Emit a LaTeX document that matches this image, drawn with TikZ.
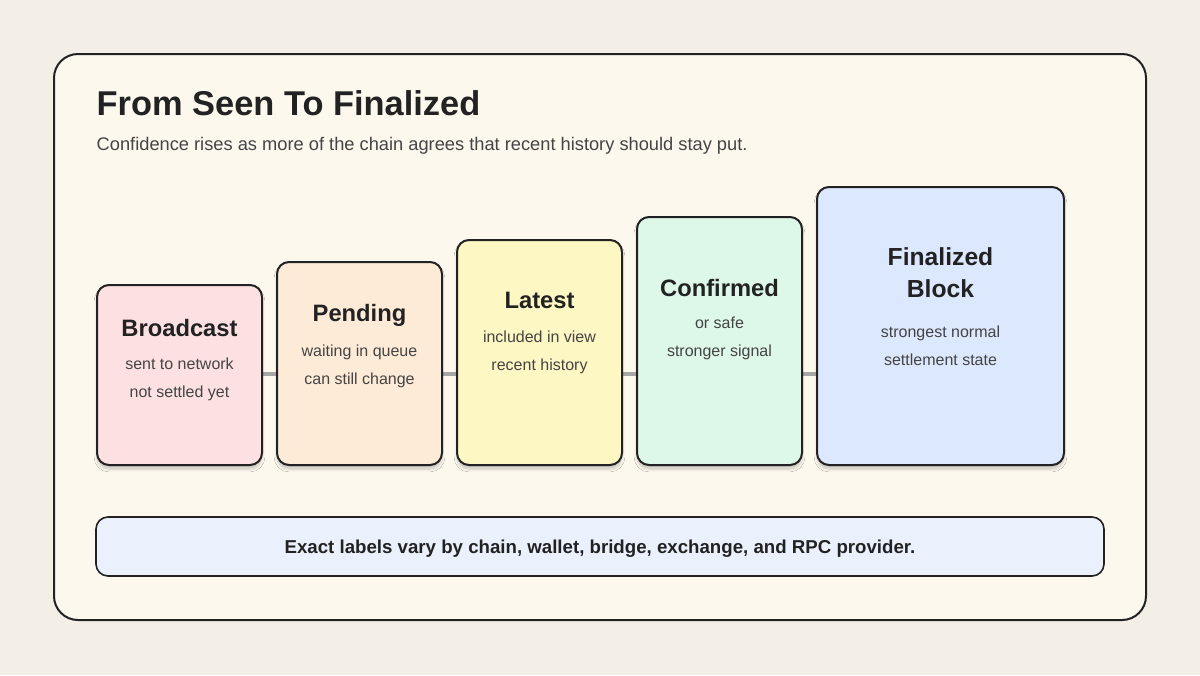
\documentclass[tikz,border=0pt]{standalone}
\usepackage{fontspec}
\setmainfont{Liberation Sans}
\usetikzlibrary{shadows.blur}
\definecolor{pagebg}{HTML}{F3EFE6}
\definecolor{framebg}{HTML}{FCF8EE}
\definecolor{ink}{HTML}{222222}
\definecolor{sub}{HTML}{444444}
\definecolor{cpink}{HTML}{FDE0E2}
\definecolor{cpeach}{HTML}{FDEBD7}
\definecolor{cyel}{HTML}{FDF7C3}
\definecolor{cgreen}{HTML}{DDF7E8}
\definecolor{cblue}{HTML}{DCE8FD}
\definecolor{cnote}{HTML}{EAF0FC}
\begin{document}
\begin{tikzpicture}[x=0.75pt,y=-0.75pt,
  stage/.style={draw=ink,line width=1.5pt,rounded corners=9pt,blur shadow={shadow blur steps=6,shadow xshift=0pt,shadow yshift=-3pt,shadow opacity=20}},
  ttl/.style={font=\bfseries\fontsize{17.8}{19}\selectfont,text=ink,align=center},
  dsc/.style={font=\fontsize{12}{21}\selectfont,text=sub,align=center},
  link/.style={draw=gray!70,line width=3.5pt}]
\fill[pagebg] (0,0) rectangle (1200,675);
\useasboundingbox (0,0) rectangle (1200,675);
\draw[ink,fill=framebg,line width=1.5pt,rounded corners=18pt] (54,54) rectangle (1146,620);
\node[anchor=west,font=\bfseries\fontsize{25.8}{29}\selectfont,text=ink] (title) at (92,103) {From Seen To Finalized};
\node[anchor=west,font=\fontsize{13.7}{16}\selectfont,text=sub] (subt) at (92,146) {Confidence rises as more of the chain agrees that recent history should stay put.};
% connectors
\coordinate (c1a) at (262,374); \coordinate (c1b) at (277,374);
\coordinate (c2a) at (442,374); \coordinate (c2b) at (457,374);
\coordinate (c3a) at (622,374); \coordinate (c3b) at (637,374);
\coordinate (c4a) at (802,374); \coordinate (c4b) at (817,374);
\draw[link] (c1a)--(c1b); \draw[link] (c2a)--(c2b); \draw[link] (c3a)--(c3b); \draw[link] (c4a)--(c4b);
% boxes
\path[stage,fill=cpink] (97,285) rectangle (262,465);
\path[stage,fill=cpeach] (277,262) rectangle (442,465);
\path[stage,fill=cyel] (457,240) rectangle (622,465);
\path[stage,fill=cgreen] (637,217) rectangle (802,465);
\path[stage,fill=cblue] (817,187) rectangle (1064,465);
\node[ttl] (t1) at (179.5,328) {Broadcast};
\node[dsc] (d1) at (179.5,379) {sent to network\\not settled yet};
\node[ttl] (t2) at (359.5,315) {Pending};
\node[dsc] (d2) at (359.5,366) {waiting in queue\\can still change};
\node[ttl] (t3) at (539.5,300) {Latest};
\node[dsc] (d3) at (539.5,352) {included in view\\recent history};
\node[ttl] (t4) at (719.5,288) {Confirmed};
\node[dsc] (d4) at (719.5,338) {or safe\\stronger signal};
\node[ttl,font=\bfseries\fontsize{18.5}{24}\selectfont] (t5) at (940.5,273) {Finalized\\Block};
\node[dsc] (d5) at (940.5,346) {strongest normal\\settlement state};
\draw[ink,fill=cnote,line width=1.2pt,rounded corners=9pt] (96,517) rectangle (1104,576);
\node[font=\bfseries\fontsize{14}{16}\selectfont,text=ink] (note) at (600,549) {Exact labels vary by chain, wallet, bridge, exchange, and RPC provider.};
\end{tikzpicture}
\end{document}
